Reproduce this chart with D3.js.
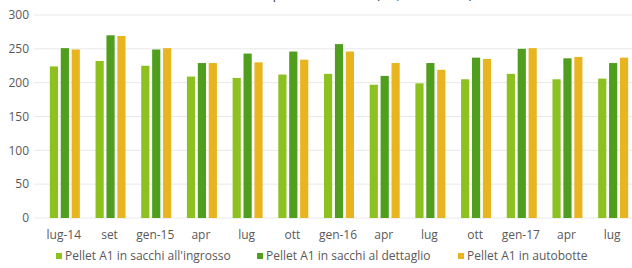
<!DOCTYPE html>
<meta charset="utf-8">
<style>
body { margin: 0; background: #fff; }
text { font-family: "Open Sans", sans-serif; fill: #595959; }
.grid line { stroke: #e8e8e8; stroke-width: 1px; }
</style>
<svg width="632" height="268"></svg>
<script src="https://cdn.jsdelivr.net/npm/d3@7"></script>
<script>
var categories = ["lug-14", "set", "gen-15", "apr", "lug", "ott", "gen-16", "apr", "lug", "ott", "gen-17", "apr", "lug"];
var seriesNames = ["Pellet A1 in sacchi all'ingrosso", "Pellet A1 in sacchi al dettaglio", "Pellet A1 in autobotte"];
var ingrosso  = [224, 232, 225, 209, 207, 212, 213, 197, 199, 205, 213, 205, 206];
var dettaglio = [251, 270, 249, 229, 243, 246, 257, 210, 229, 237, 250, 236, 229];
var autobotte = [249, 269, 251, 229, 230, 234, 246, 229, 219, 235, 251, 238, 237];
var yTicks = [0, 50, 100, 150, 200, 250, 300];
var colors = ["#8cc11f", "#4f9e1e", "#e8b520"];

var series = [ingrosso, dettaglio, autobotte];

var svg = d3.select("svg"),
    margin = {top: 15, right: -3, bottom: 50, left: 41},
    width = +svg.attr("width") - margin.left - margin.right,
    height = +svg.attr("height") - margin.top - margin.bottom,
    g = svg.append("g").attr("transform", "translate(" + margin.left + "," + margin.top + ")");

// title, almost entirely cut off at the top of the picture
svg.append("text")
    .attr("x", 325)
    .attr("y", -1)
    .attr("text-anchor", "middle")
    .style("font-size", "13px")
    .style("fill", "#404040")
    .text("Prezzi medi del pellet A1 in Italia (€/t, IVA inclusa)");

var x = d3.scaleBand()
    .domain(d3.range(categories.length))
    .range([0, width]);

var x1 = d3.scaleBand()
    .domain(d3.range(series.length))
    .range([x.bandwidth() / 2 - 14, x.bandwidth() / 2 + 16])
    .paddingInner(0.25);

var y = d3.scaleLinear()
    .domain([0, 300])
    .range([height, 0]);

g.append("g")
    .attr("class", "grid")
  .selectAll("line")
  .data(yTicks)
  .enter().append("line")
    .attr("x1", -7)
    .attr("x2", width)
    .attr("y1", function(d) { return y(d); })
    .attr("y2", function(d) { return y(d); });

g.append("g")
  .selectAll("text")
  .data(yTicks)
  .enter().append("text")
    .attr("x", -12)
    .attr("y", function(d) { return y(d); })
    .attr("dy", "0.35em")
    .attr("text-anchor", "end")
    .style("font-size", "12px")
    .text(function(d) { return d; });

var groups = g.selectAll(".group")
  .data(categories)
  .enter().append("g")
    .attr("class", "group")
    .attr("transform", function(d, i) { return "translate(" + x(i) + ",0)"; });

groups.selectAll("rect")
  .data(function(d, i) { return series.map(function(s, k) { return {k: k, v: s[i]}; }); })
  .enter().append("rect")
    .attr("x", function(d) { return x1(d.k); })
    .attr("width", x1.bandwidth())
    .attr("y", function(d) { return y(d.v); })
    .attr("height", function(d) { return y(0) - y(d.v); })
    .attr("fill", function(d) { return colors[d.k]; });

g.append("g")
  .selectAll("text")
  .data(categories)
  .enter().append("text")
    .attr("x", function(d, i) { return x(i) + x.bandwidth() / 2; })
    .attr("y", height + 21)
    .attr("text-anchor", "middle")
    .style("font-size", "12px")
    .text(function(d) { return d; });

// legend
var legendX = [56, 257, 458];
var legend = svg.append("g")
  .selectAll("g")
  .data(seriesNames)
  .enter().append("g")
    .attr("transform", function(d, i) { return "translate(" + legendX[i] + ",256)"; });

legend.append("rect")
    .attr("y", -3)
    .attr("width", 6)
    .attr("height", 6)
    .attr("fill", function(d, i) { return colors[i]; });

legend.append("text")
    .attr("x", 9)
    .attr("dy", "0.35em")
    .style("font-size", "12px")
    .text(function(d) { return d; });
</script>
